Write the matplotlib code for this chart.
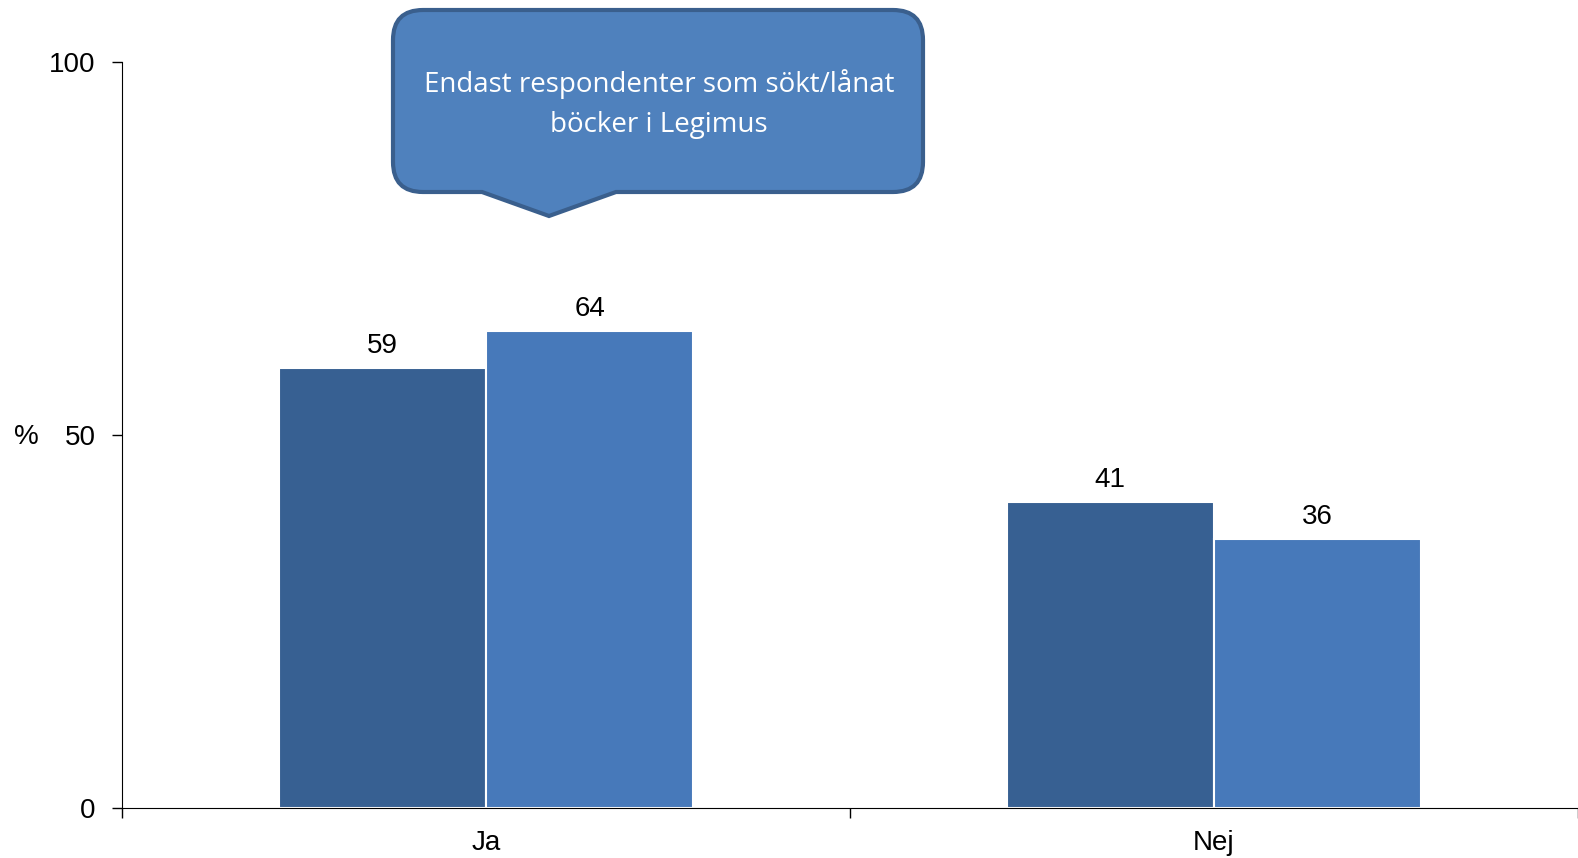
import numpy as np
import matplotlib
matplotlib.use('Agg')
import matplotlib.pyplot as plt
from matplotlib.path import Path
from matplotlib.patches import PathPatch

categories = ['Ja', 'Nej']
series_a = [59, 41]
series_b = [64, 36]
y_ticks = [0, 50, 100]
callout_text = 'Endast respondenter som sökt/lånat\nböcker i Legimus'

plt.rcParams['font.family'] = ['Liberation Sans', 'DejaVu Sans']

W, H = 1578, 858
fig = plt.figure(figsize=(W / 100, H / 100), dpi=100)
ax = fig.add_axes([122 / W, 1 - 808 / H, 1 - 122 / W, (808 - 62) / H])

x = np.arange(len(categories)) + 0.5
bw = 0.285
bars_a = ax.bar(x - bw / 2, series_a, bw, color='#376092', edgecolor='white', linewidth=1.5)
bars_b = ax.bar(x + bw / 2, series_b, bw, color='#4779BA', edgecolor='white', linewidth=1.5)

for bars in (bars_a, bars_b):
    for bar in bars:
        h = bar.get_height()
        ax.text(bar.get_x() + bar.get_width() / 2, h + 1.2, str(int(h)),
                ha='center', va='bottom', fontsize=20)

ax.set_xlim(0, len(categories))
ax.set_ylim(0, 100)
ax.set_yticks(y_ticks)
ax.set_yticklabels([str(t) for t in y_ticks], fontsize=20)
ax.set_xticks(np.arange(len(categories) + 1))
ax.set_xticklabels([])
ax.set_xticks(x, minor=True)
ax.set_xticklabels(categories, minor=True, fontsize=20)
ax.tick_params(axis='x', which='minor', length=0, pad=16)
ax.tick_params(axis='both', which='major', length=7, width=1, direction='out', pad=12)
ax.tick_params(axis='x', which='major', pad=4)
for s in ['top', 'right']:
    ax.spines[s].set_visible(False)
fig.text(26 / W, 1 - 437 / H, '%', fontsize=20, ha='center', va='center')

# callout balloon, built in pixel coordinates of the figure
def p(px, py):
    return (px / W, 1 - py / H)

x0, x1, y0, y1, r = 393, 923, 10, 192, 30
verts = [p(x0 + r, y0), p(x1 - r, y0), p(x1, y0), p(x1, y0 + r),
         p(x1, y1 - r), p(x1, y1), p(x1 - r, y1),
         p(616, y1), p(549, 216), p(482, y1),
         p(x0 + r, y1), p(x0, y1), p(x0, y1 - r),
         p(x0, y0 + r), p(x0, y0), p(x0 + r, y0), p(x0 + r, y0)]
codes = [Path.MOVETO, Path.LINETO, Path.CURVE3, Path.CURVE3,
         Path.LINETO, Path.CURVE3, Path.CURVE3,
         Path.LINETO, Path.LINETO, Path.LINETO,
         Path.LINETO, Path.CURVE3, Path.CURVE3,
         Path.LINETO, Path.CURVE3, Path.CURVE3, Path.CLOSEPOLY]
balloon = PathPatch(Path(verts, codes), facecolor='#4F81BD', edgecolor='#3A5F8D',
                    linewidth=3, transform=fig.transFigure, zorder=5)
fig.patches.append(balloon)
fig.text(659 / W, 1 - 104 / H, callout_text, ha='center', va='center', color='white',
         fontsize=20, family=['Open Sans', 'DejaVu Sans'], linespacing=1.55, zorder=6)

fig.savefig('out.png', dpi=100)
